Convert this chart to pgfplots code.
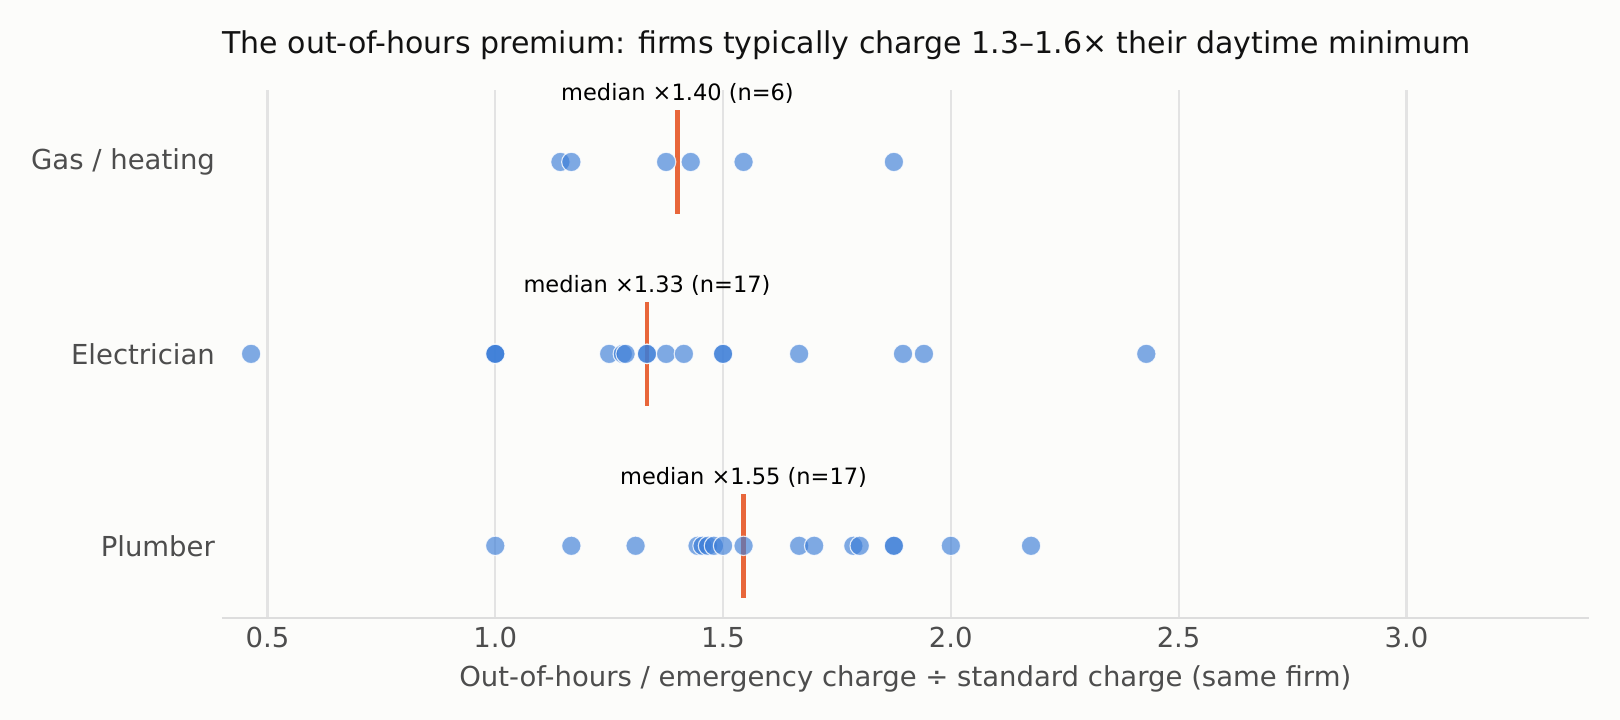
\documentclass[border=0pt]{standalone}
\usepackage{pgfplots}
\pgfplotsset{compat=1.18}
\usepackage{pgfplotstable}
\usepackage{fontspec}
\setmainfont{DejaVu Sans}
\usetikzlibrary{backgrounds}

\definecolor{bgpaper}{HTML}{FCFCFA}
\definecolor{ptblue}{HTML}{3B7DD8}
\definecolor{medorange}{HTML}{E8663A}
\definecolor{gridgray}{HTML}{E3E3E3}
\definecolor{spinegray}{HTML}{DDDDDD}
\definecolor{labgray}{HTML}{4D4D4D}

% y: 0 = Plumber, 1 = Electrician, 2 = Gas / heating
\pgfplotstableread{
x     y
1.143 2
1.167 2
1.375 2
1.429 2
1.545 2
1.875 2
}\gasdata

\pgfplotstableread{
x     y
0.464 1
1.000 1
1.000 1
1.000 1
1.250 1
1.280 1
1.286 1
1.333 1
1.333 1
1.375 1
1.414 1
1.500 1
1.500 1
1.667 1
1.895 1
1.941 1
2.429 1
}\elecdata

\pgfplotstableread{
x     y
1.000 0
1.167 0
1.308 0
1.444 0
1.455 0
1.467 0
1.480 0
1.500 0
1.545 0
1.667 0
1.700 0
1.786 0
1.800 0
1.875 0
1.875 0
2.000 0
2.176 0
}\plumbdata

\begin{document}
\begin{tikzpicture}
\begin{axis}[
    scale only axis,
    width=492pt, height=190pt,
    xmin=0.4, xmax=3.4,
    ymin=-0.375, ymax=2.375,
    xtick={0.5,1.0,1.5,2.0,2.5,3.0},
    xticklabels={0.5,1.0,1.5,2.0,2.5,3.0},
    ytick={0,1,2},
    yticklabels={Plumber,Electrician,Gas / heating},
    axis x line*=bottom,
    axis y line*=left,
    y axis line style={draw=none},
    x axis line style={draw=spinegray, line width=0.6pt},
    major tick length=0pt,
    xmajorgrids,
    major grid style={draw=gridgray, line width=0.8pt},
    tick label style={font=\fontsize{9.9}{12}\selectfont, text=labgray},
    xticklabel style={yshift=0pt},
    yticklabel style={xshift=1pt},
    xlabel={Out-of-hours / emergency charge ÷ standard charge (same firm)},
    xlabel style={font=\fontsize{9.9}{12}\selectfont, text=labgray, at={(rel axis cs:0.5,0)}, anchor=center, yshift=-22pt},
    clip=false,
]
\addplot[only marks, mark=*, mark size=3.5pt,
    mark options={fill=ptblue, fill opacity=0.65, draw=white, draw opacity=0.8, line width=0.4pt}]
    table[x=x, y=y] {\gasdata};
\addplot[only marks, mark=*, mark size=3.5pt,
    mark options={fill=ptblue, fill opacity=0.65, draw=white, draw opacity=0.8, line width=0.4pt}]
    table[x=x, y=y] {\elecdata};
\addplot[only marks, mark=*, mark size=3.5pt,
    mark options={fill=ptblue, fill opacity=0.65, draw=white, draw opacity=0.8, line width=0.4pt}]
    table[x=x, y=y] {\plumbdata};

% medians
\addplot[medorange, line width=1.6pt] coordinates {(1.40,1.73) (1.40,2.27)};
\addplot[medorange, line width=1.6pt] coordinates {(1.333,0.73) (1.333,1.27)};
\addplot[medorange, line width=1.6pt] coordinates {(1.545,-0.27) (1.545,0.27)};

\node[font=\fontsize{8.1}{9}\selectfont, anchor=center] at (axis cs:1.40,2.355) {median ×1.40 (n=6)};
\node[font=\fontsize{8.1}{9}\selectfont, anchor=center] at (axis cs:1.333,1.355) {median ×1.33 (n=17)};
\node[font=\fontsize{8.1}{9}\selectfont, anchor=center] at (axis cs:1.545,0.355) {median ×1.55 (n=17)};

\node[font=\fontsize{10.8}{12}\selectfont, anchor=west, inner sep=0pt, text=black!93] at (rel axis cs:0,1) [yshift=16pt]
    {The out-of-hours premium: firms typically charge 1.3–1.6× their daytime minimum};
\end{axis}
\begin{scope}[on background layer]
\fill[bgpaper] (-79.9pt,-36.7pt) rectangle (503.3pt,222.4pt);
\end{scope}
\end{tikzpicture}
\end{document}
